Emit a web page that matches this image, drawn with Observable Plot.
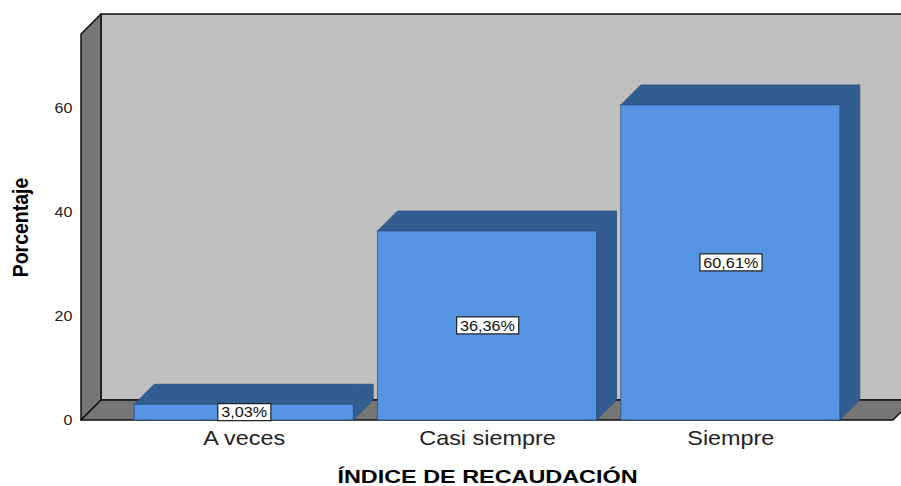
<!DOCTYPE html>
<html>
<head>
<meta charset="utf-8">
<script src="https://cdn.jsdelivr.net/npm/d3@7"></script>
<script src="https://cdn.jsdelivr.net/npm/@observablehq/plot@0.6"></script>
<style>
  html, body { margin: 0; padding: 0; background: #fff; }
  body { width: 901px; height: 486px; overflow: hidden; }
</style>
</head>
<body>
<script>
// ---- data ----
const categories = ["A veces", "Casi siempre", "Siempre"];
const percentages = [3.03, 36.36, 60.61];
const yTicks = [0, 20, 40, 60];
const xTitle = "ÍNDICE DE RECAUDACIÓN";
const yTitle = "Porcentaje";

// ---- layout ----
const W = 901, H = 486;
const mL = 122, mR = 49, mT = 14, mB = 66;
const yMax = 78.1;
const pxX = (W - mL - mR) / categories.length;
const pxY = (H - mT - mB) / yMax;
const DEPTH = 20;                 // 3D depth in pixels
const dx = DEPTH / pxX, dy = DEPTH / pxY;
const wallL = -41 / pxX, wallR = categories.length + 41 / pxX;
const wallTop = yMax - dy;
const pad = 0.05;

const fmt = v => v.toFixed(2).replace(".", ",") + "%";

const bars = categories.map((c, i) => ({c, v: percentages[i], x0: i + pad, x1: i + 1 - pad}));
const sideData = bars.flatMap(b => [
  {c: b.c, x: b.x1, y1: 0, y2: b.v},
  {c: b.c, x: b.x1 + dx, y1: dy, y2: b.v + dy}
]);
const topData = bars.flatMap(b => [
  {c: b.c, x: b.x0, y1: b.v, y2: b.v},
  {c: b.c, x: b.x0 + dx, y1: b.v, y2: b.v + dy},
  {c: b.c, x: b.x1, y1: b.v, y2: b.v + dy},
  {c: b.c, x: b.x1 + dx, y1: b.v + dy, y2: b.v + dy}
]);
const leftWall = [{x: wallL, y1: 0, y2: wallTop}, {x: wallL + dx, y1: dy, y2: yMax}];
const floor = [
  {x: wallL, y1: 0, y2: 0},
  {x: wallL + dx, y1: 0, y2: dy},
  {x: wallR, y1: 0, y2: dy},
  {x: wallR + dx, y1: dy, y2: dy}
];

const FRONT = "#5595e4", DARK = "#335d91", EDGE = "#2c5283";

// text marks, in order, with horizontal stretch factors (the original raster is stretched)
const textStretch = [1.15, 1.17, 1.3, 1.15, 1.12];

const plot = Plot.plot({
  width: W, height: H,
  marginLeft: mL, marginRight: mR, marginTop: mT, marginBottom: mB,
  x: {domain: [0, categories.length], axis: null},
  y: {domain: [0, yMax], axis: null},
  style: {fontFamily: "'Liberation Sans', Arial, sans-serif", background: "white", overflow: "visible"},
  marks: [
    // back wall
    Plot.rect([0], {x1: () => wallL + dx, x2: () => wallR + dx + 0.3, y1: () => dy, y2: () => yMax,
      fill: "#c0c0c0", stroke: "#111", strokeWidth: 1.5}),
    // left wall
    Plot.areaY(leftWall, {x: "x", y1: "y1", y2: "y2", fill: "#767676", stroke: "#111", strokeWidth: 1.5}),
    // floor
    Plot.areaY(floor, {x: "x", y1: "y1", y2: "y2", fill: "#767676", stroke: "#111", strokeWidth: 1.5}),
    // bar sides & tops
    Plot.areaY(sideData, {x: "x", y1: "y1", y2: "y2", z: "c", fill: DARK, stroke: EDGE, strokeWidth: 0.8}),
    Plot.areaY(topData, {x: "x", y1: "y1", y2: "y2", z: "c", fill: DARK, stroke: EDGE, strokeWidth: 0.8}),
    // bar fronts
    Plot.rect(bars, {x1: "x0", x2: "x1", y1: () => 0, y2: "v", fill: FRONT, stroke: EDGE, strokeWidth: 0.8}),
    // y tick labels
    Plot.text(yTicks, {x: () => wallL, y: d => d, text: d => String(d), textAnchor: "end", dx: -9,
      fontSize: 14, fill: "#222"}),
    // category labels
    Plot.text(categories, {x: (d, i) => i + 0.5, y: () => 0, text: d => d, dy: 18,
      fontSize: 20, fill: "#222"}),
    // x title
    Plot.text([xTitle], {x: () => (wallL + wallR) / 2, y: () => 0, text: d => d, dy: 57,
      fontSize: 18, fontWeight: "bold", fill: "#000"}),
    // y title (centred on the front wall)
    Plot.text([yTitle], {x: () => wallL, y: () => wallTop / 2, text: d => d, rotate: -90, dx: -61,
      fontSize: 19.5, fontWeight: "bold", fill: "#000"}),
    // value labels
    Plot.text(bars, {x: d => (d.x0 + d.x1) / 2, y: d => d.v / 2, text: d => fmt(d.v),
      fontSize: 14.5, fill: "#111"})
  ]
});

document.body.append(plot);

const textGroups = Array.from(plot.querySelectorAll('g[aria-label="text"]'));
textGroups.forEach((g, k) => {
  const s = textStretch[k] || 1;
  g.querySelectorAll("text").forEach(t => {
    const tr = t.getAttribute("transform") || "";
    if (/^translate\([^)]*\)/.test(tr)) {
      t.setAttribute("transform", tr.replace(/^(translate\([^)]*\))/, `$1 scale(${s},1)`));
    } else {
      t.setAttribute("transform", `scale(${s},1) ` + tr);
    }
  });
});

// white boxes behind value labels
const vg = textGroups[textGroups.length - 1];
if (vg) vg.querySelectorAll("text").forEach(t => {
  const bb = t.getBBox();
  const r = document.createElementNS("http://www.w3.org/2000/svg", "rect");
  r.setAttribute("x", bb.x - 3);
  r.setAttribute("y", bb.y - 0.5);
  r.setAttribute("width", bb.width + 6);
  r.setAttribute("height", bb.height + 1);
  r.setAttribute("fill", "#fff");
  r.setAttribute("stroke", "#222");
  r.setAttribute("stroke-width", 1.2);
  r.setAttribute("vector-effect", "non-scaling-stroke");
  const tr = t.getAttribute("transform");
  if (tr) r.setAttribute("transform", tr);
  t.parentNode.insertBefore(r, t);
});
</script>
</body>
</html>
